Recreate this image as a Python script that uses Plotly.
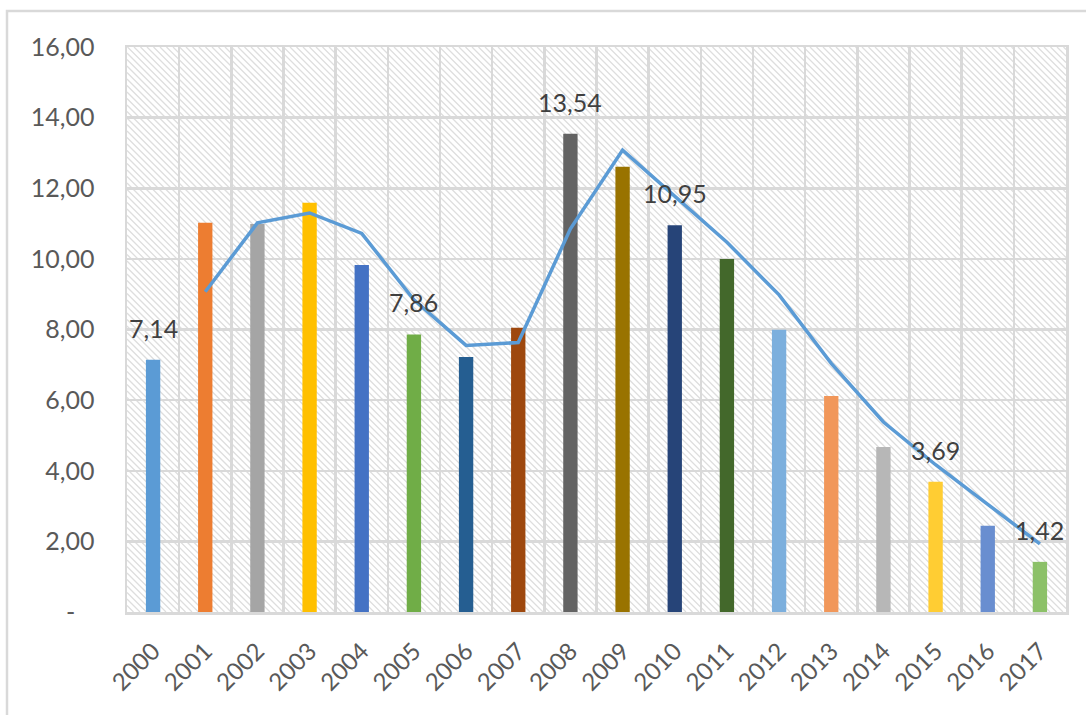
import plotly.graph_objects as go

# ---- data ----
years = ["2000", "2001", "2002", "2003", "2004", "2005", "2006", "2007", "2008",
         "2009", "2010", "2011", "2012", "2013", "2014", "2015", "2016", "2017"]
values = [7.14, 11.02, 10.99, 11.59, 9.83, 7.86, 7.22, 8.05, 13.54,
          12.61, 10.95, 10.00, 7.99, 6.12, 4.67, 3.69, 2.44, 1.42]
bar_colors = ["#5B9BD5", "#ED7D31", "#A5A5A5", "#FFC000", "#4472C4", "#70AD47",
              "#255E91", "#9E480E", "#636363", "#997300", "#264478", "#43682B",
              "#7CAFDD", "#F1975A", "#B7B7B7", "#FFCD33", "#698ED0", "#8CC168"]
# moving-average trend line (starts at 2001)
ma_years = years[1:]
ma_values = [9.07, 11.02, 11.30, 10.72, 8.84, 7.55, 7.63, 10.85, 13.08,
             11.78, 10.47, 8.98, 7.04, 5.38, 4.17, 3.05, 1.93]
labelled_years = ["2000", "2005", "2008", "2010", "2015", "2017"]
y_tickvals = [0, 2, 4, 6, 8, 10, 12, 14, 16]
y_ticktext = ["-\u00a0\u00a0\u00a0", "2,00", "4,00", "6,00", "8,00", "10,00",
              "12,00", "14,00", "16,00"]

FONT = "Lato, 'Open Sans', sans-serif"
GRID = "#d9d9d9"

W, H = 1086, 715
ML, MR, MT, MB = 127, 20, 47, 103
PW, PH = W - ML - MR, H - MT - MB
XMIN, XMAX = -0.5, len(years) - 0.5
YMIN, YMAX = 0, 16

idx = list(range(len(years)))
ma_idx = [years.index(y) for y in ma_years]

fig = go.Figure()
fig.add_trace(go.Bar(
    x=idx, y=values, width=0.275,
    marker=dict(color=bar_colors, line=dict(width=0)),
    hoverinfo="skip",
))
fig.add_trace(go.Scatter(
    x=ma_idx, y=ma_values, mode="lines",
    line=dict(color="#5B9BD5", width=3.5),
    hoverinfo="skip",
))

# data labels
annotations = []
for yr in labelled_years:
    i = years.index(yr)
    annotations.append(dict(
        x=i, y=values[i], xref="x", yref="y",
        text=f"{values[i]:.2f}".replace(".", ","),
        showarrow=False, yanchor="bottom", yshift=15,
        font=dict(family=FONT, size=25, color="#404040"),
    ))

# hatch background of the plot area (decoration, drawn below gridlines)
def px_to_data(xp, yp):
    return (XMIN + xp / PW * (XMAX - XMIN), YMAX - yp / PH * (YMAX - YMIN))

step = 6.5
parts = []
c = -PH
while c <= PW:
    x0 = max(0.0, c)
    x1 = min(float(PW), PH + c)
    if x1 > x0:
        ax, ay = px_to_data(x0, x0 - c)
        bx, by = px_to_data(x1, x1 - c)
        parts.append(f"M{ax:.4f},{ay:.4f}L{bx:.4f},{by:.4f}")
    c += step
shapes = [dict(type="path", xref="x", yref="y", path="".join(parts),
               line=dict(color="#dedede", width=1.3), layer="below")]

# outer chart-area border
shapes.append(dict(type="rect", xref="paper", yref="paper",
                   x0=(7 - ML) / PW, x1=(W + 10 - ML) / PW,
                   y0=-(H + 10 - MT - PH) / PH, y1=(PH + MT - 11) / PH,
                   line=dict(color=GRID, width=2.5), fillcolor="rgba(0,0,0,0)",
                   layer="above"))

fig.update_layout(
    template="none",
    width=W, height=H,
    margin=dict(l=ML, r=MR, t=MT, b=MB, autoexpand=False),
    paper_bgcolor="white", plot_bgcolor="white",
    showlegend=False,
    shapes=shapes,
    annotations=annotations,
    font=dict(family=FONT, size=24, color="#595959"),
)
fig.update_xaxes(
    automargin=False,
    range=[XMIN, XMAX],
    tickmode="array", tickvals=idx, ticktext=years, tickangle=-45,
    tickfont=dict(family=FONT, size=24, color="#595959"),
    ticks="outside", ticklen=13, tickcolor="rgba(0,0,0,0)",
    showgrid=False, zeroline=False,
    showline=True, linecolor=GRID, linewidth=2.5, mirror=True,
    minor=dict(tickmode="array", tickvals=[i - 0.5 for i in range(len(years) + 1)],
               showgrid=True, gridcolor=GRID, gridwidth=2.5, ticks=""),
)
fig.update_yaxes(
    automargin=False,
    range=[YMIN, YMAX],
    tickmode="array", tickvals=y_tickvals, ticktext=y_ticktext,
    tickfont=dict(family=FONT, size=25, color="#595959"),
    ticks="outside", ticklen=25, tickcolor="rgba(0,0,0,0)",
    showgrid=True, gridcolor=GRID, gridwidth=2.5, zeroline=False,
    showline=True, linecolor=GRID, linewidth=2.5, mirror=True,
)

fig.write_html(
    "out.html",
    config={"displayModeBar": False, "staticPlot": True},
    post_script="document.body.style.margin='0';document.body.style.overflow='hidden';",
)
